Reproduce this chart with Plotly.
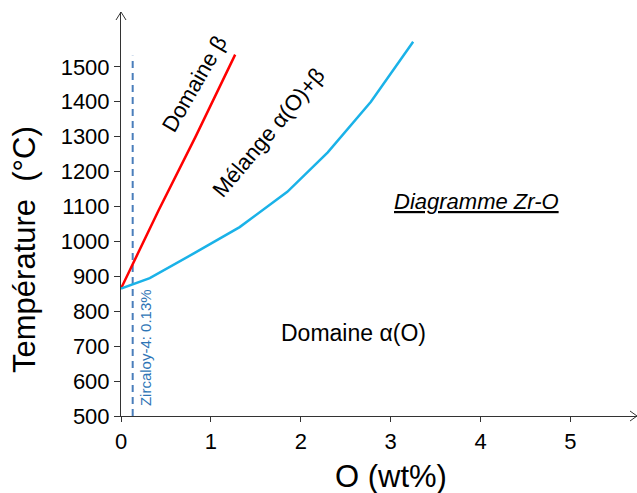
import plotly.graph_objects as go

# Data
beta_x = [0.0, 0.42, 0.83, 1.27]
beta_T = [865, 1090, 1300, 1535]
alpha_x = [0.0, 0.32, 0.82, 1.32, 1.85, 2.30, 2.78, 3.25]
alpha_T = [865, 895, 967, 1041, 1142, 1255, 1400, 1572]
zirc_x = [0.13, 0.13]
zirc_T = [500, 1532]
x_ticks = [0, 1, 2, 3, 4, 5]
y_ticks = [500, 600, 700, 800, 900, 1000, 1100, 1200, 1300, 1400, 1500]

FONT = "Liberation Sans, Arial, sans-serif"

fig = go.Figure()
fig.add_trace(go.Scatter(x=zirc_x, y=zirc_T, mode="lines",
                         line=dict(color="#4A7EBB", width=2, dash="7px,5px"),
                         showlegend=False, hoverinfo="skip"))
fig.add_trace(go.Scatter(x=beta_x, y=beta_T, mode="lines",
                         line=dict(color="#FF0000", width=2.5),
                         showlegend=False))
fig.add_trace(go.Scatter(x=alpha_x, y=alpha_T, mode="lines",
                         line=dict(color="#1AB2E8", width=2.5),
                         showlegend=False))

ann = [
    dict(text="Domaine β", x=0.82, y=1452, textangle=-60, font=dict(size=22)),
    dict(text="Mélange α(O)+β", x=1.64, y=1313, textangle=-50, font=dict(size=22)),
    dict(text="<i><u>Diagramme Zr-O</u></i>", x=3.96, y=1113, font=dict(size=22)),
    dict(text="Domaine α(O)", x=2.59, y=738, font=dict(size=23)),
    dict(text="Zircaloy-4: 0.13%", x=0.28, y=695, textangle=-90,
         font=dict(size=15, color="#2E75B6")),
]
annotations = []
for a in ann:
    f = dict(family=FONT, color="#000000")
    f.update(a.pop("font"))
    annotations.append(dict(xref="x", yref="y", showarrow=False,
                            xanchor="center", yanchor="middle", font=f, **a))
# axis titles (paper coordinates, outside the plot area)
annotations.append(dict(text="Température  (°C)", xref="paper", yref="paper",
                        x=-0.186, y=0.411, textangle=-90, showarrow=False,
                        xanchor="center", yanchor="middle",
                        font=dict(family=FONT, size=31, color="#000000")))
annotations.append(dict(text="O (wt%)", xref="paper", yref="paper",
                        x=0.523, y=-0.15, showarrow=False,
                        xanchor="center", yanchor="middle",
                        font=dict(family=FONT, size=31, color="#000000")))

fig.update_layout(
    width=637, height=493,
    margin=dict(l=121, r=0, t=12, b=77),
    paper_bgcolor="white", plot_bgcolor="white",
    font=dict(family=FONT, color="#000000"),
    annotations=annotations,
    shapes=[
        dict(type="path", xref="paper", yref="paper", xsizemode="pixel", ysizemode="pixel",
             xanchor=0, yanchor=1, path="M -5,-8 L 0,0 L 5,-8",
             line=dict(color="#333333", width=1)),
        dict(type="path", xref="paper", yref="paper", xsizemode="pixel", ysizemode="pixel",
             xanchor=1, yanchor=0, path="M -7,5 L 0,0 L -7,-5",
             line=dict(color="#333333", width=1)),
    ],
    xaxis=dict(range=[0, 5.74], tickvals=x_ticks, showgrid=False, zeroline=False,
               showline=True, linecolor="#333333", linewidth=1, automargin=False,
               ticks="outside", ticklen=5, tickcolor="#333333",
               tickfont=dict(size=22, family=FONT), ticklabelstandoff=1),
    yaxis=dict(range=[500, 1657], tickvals=y_ticks, showgrid=False, zeroline=False,
               showline=True, linecolor="#333333", linewidth=1, automargin=False,
               ticks="outside", ticklen=6, tickcolor="#333333",
               tickfont=dict(size=22, family=FONT), ticklabelstandoff=0),
)

fig.write_html("out.html", config={"displayModeBar": False},
               post_script="document.body.style.margin='0';")
